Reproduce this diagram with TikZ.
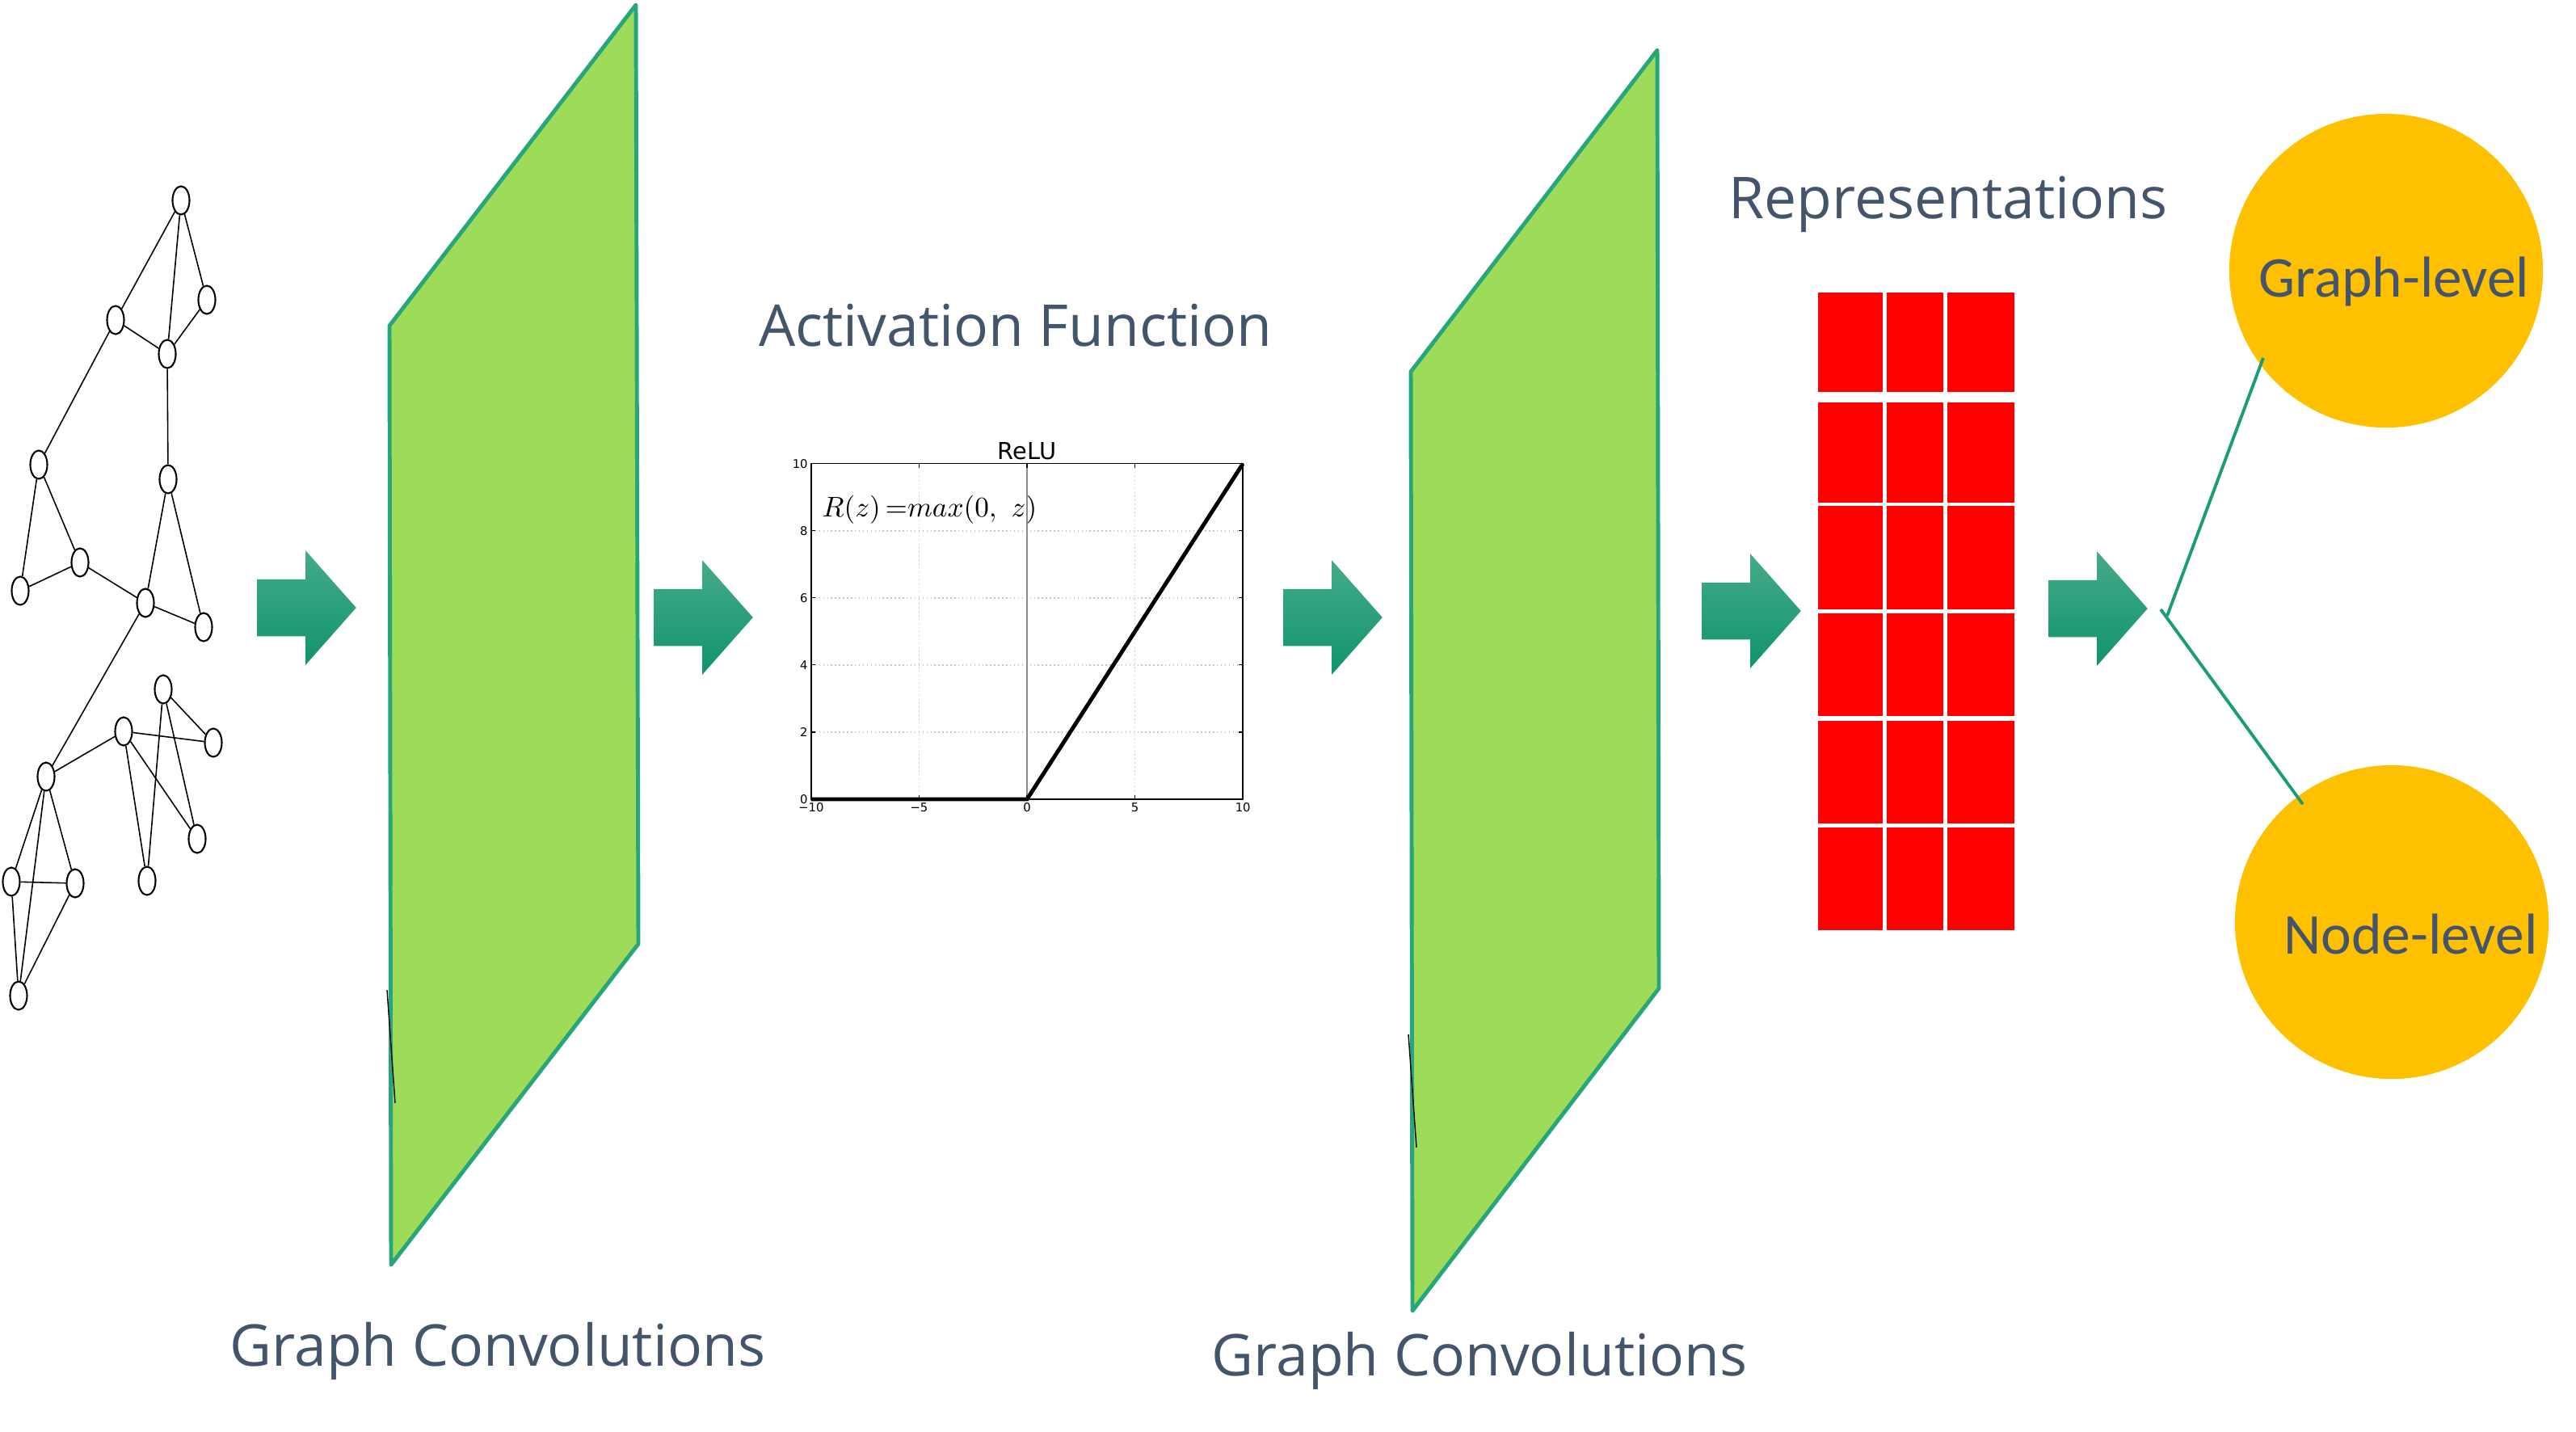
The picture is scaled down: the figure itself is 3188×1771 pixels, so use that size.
\documentclass[tikz,border=0pt]{standalone}
\usepackage{fontspec}
\usepackage{amsmath}
\usetikzlibrary{shapes.geometric,shapes.arrows,positioning}
\newfontfamily\capfont{Open Sans}
\newfontfamily\lvlfont{Carlito}
\newfontfamily\pltfont{DejaVu Sans}
\definecolor{layergreen}{HTML}{9EDB58}
\definecolor{layeredge}{HTML}{26A67A}
\definecolor{flowtop}{HTML}{45AA8A}
\definecolor{flowbot}{HTML}{10946D}
\definecolor{flowline}{HTML}{1A9C77}
\definecolor{amber}{HTML}{FFC000}
\definecolor{slate}{HTML}{44546A}
\definecolor{cellred}{HTML}{FE0000}
\tikzset{
    place/.style={
        ellipse,
        draw=black,
        line width=0.6pt,
        fill=white,
        minimum width=0.21cm,
        minimum height=0.35cm,
        inner sep=0pt,
    },
    layer/.style={
        fill=layergreen,
        draw=layeredge,
        line width=1.4pt,
        line join=round,
    },
    flow/.style={
        single arrow,
        top color=flowtop,
        bottom color=flowbot,
        minimum height=1.22cm,
        inner xsep=0pt,
        inner ysep=0.345cm,
        single arrow head extend=0.355cm,
        single arrow tip angle=97,
        anchor=tail,
    },
    caption/.style={
        font=\capfont\fontsize{20.3}{24}\selectfont,
        text=slate,
        inner sep=0pt,
    },
    level/.style={
        circle,
        fill=amber,
        minimum size=3.88cm,
        inner sep=0pt,
    },
    leveltext/.style={
        font=\lvlfont\fontsize{20.3}{24}\selectfont,
        text=slate,
        inner sep=0pt,
        anchor=base west,
    },
    ticklabel/.style={
        font=\pltfont\fontsize{4.2}{5}\selectfont,
        inner sep=1pt,
    },
    gridline/.style={
        densely dotted,
        draw=black!22,
        line width=0.4pt,
    },
}

\begin{document}
\begin{tikzpicture}[x=0.01cm,y=-0.01cm]
    \useasboundingbox (0,0) rectangle (3188,1771);

    % input graph
    \foreach \n/\x/\y in {n1/224/248, n2/256/371, n3/143/396, n4/207/438,
            n5/48/575, n6/208/593, n7/99/696, n8/25/731, n9/180/746,
            n10/252/776, n11/202/853, n12/153/905, n13/264/919, n14/57/961,
            n15/244/1038, n16/14/1091, n17/93/1093, n18/182/1090, n19/23/1232}
        \node [place] (\n) at (\x,\y) {};
    \foreach \a/\b in {n1/n3, n1/n4, n1/n2, n2/n4, n3/n4, n3/n5, n4/n6,
            n5/n7, n5/n8, n8/n7, n7/n9, n6/n9, n6/n10, n9/n10, n9/n14,
            n14/n12, n12/n13, n12/n15, n12/n18, n11/n18, n11/n13, n11/n15,
            n14/n16, n14/n17, n14/n19, n16/n17, n16/n19, n17/n19}
        \draw[line width=0.45pt] (\a) -- (\b);

    % convolution layers
    \draw[layer] (482,403) -- (787,6) -- (790,1168) -- (484,1565) -- cycle;
    \draw[line width=0.4pt] (479,1225) -- (489,1365);
    \draw[layer] (1746,460) -- (2051,62) -- (2053,1223) -- (1748,1622) -- cycle;
    \draw[line width=0.4pt] (1743,1280) -- (1753,1420);

    \node [caption, anchor=base] (gc1) at (616,1690) {Graph Convolutions};
    \node [caption, anchor=base] (gc2) at (1831,1702) {Graph Convolutions};
    \node [caption, anchor=base] (act) at (1257,428) {Activation Function};
    \node [caption, anchor=base] (rep) at (2411,270) {Representations};

    % arrows
    \node [flow] (a1) at (318,752) {};
    \node [flow] (a2) at (809,764) {};
    \node [flow] (a3) at (1588,764) {};
    \node [flow] (a4) at (2106,756) {};
    \node [flow] (a5) at (2535,753) {};

    % relu plot
    \begin{scope}[shift={(1271,989)},x=0.267cm,y=0.415cm]
        \foreach \gx in {-5,5}
            \draw[gridline] (\gx,0) -- (\gx,10);
        \foreach \gy in {2,4,6,8}
            \draw[gridline] (-10,\gy) -- (10,\gy);
        \draw[black!45, line width=0.3pt] (0,0) -- (0,10);
        \draw[line width=0.4pt] (-10,0) rectangle (10,10);
        \foreach \gx/\gt in {-10/−10,-5/−5,0/0,5/5,10/10} {
            \draw[line width=0.3pt] (\gx,0) -- ++(0,0.12);
            \draw[line width=0.3pt] (\gx,10) -- ++(0,-0.12);
            \node[ticklabel, anchor=north] at (\gx,0) {\gt};
        }
        \foreach \gy in {0,2,4,6,8,10} {
            \draw[line width=0.3pt] (-10,\gy) -- ++(0.2,0);
            \draw[line width=0.3pt] (10,\gy) -- ++(-0.2,0);
            \node[ticklabel, anchor=east] at (-10,\gy) {\gy};
        }
        \draw[line width=1.4pt] (-10,0) -- (0,0) -- (10,10);
        \node[font=\pltfont\fontsize{8.2}{10}\selectfont, anchor=base, inner sep=0pt] (relu) at (0,10.12) {ReLU};
        \node[font=\fontsize{10.4}{12}\selectfont, anchor=base west, inner sep=0pt] (formula) at (-9.51,8.41) {$R(z)\,{=}max(0,\ z)$};
    \end{scope}

    % representations
    \foreach \ya/\yb in {362/485, 498/622, 626/754, 759/886, 892/1019, 1024/1151}
        \foreach \xa/\xb in {2250/2330, 2335/2405, 2410/2493}
            \fill[cellred] (\xa,\ya) rectangle (\xb,\yb);

    % outputs
    \node [level] (gl) at (2953,335) {};
    \node [level] (nl) at (2960,1141) {};
    \node [leveltext] (gltext) at (2795,367) {Graph-level};
    \node [leveltext] (nltext) at (2826,1180) {Node-level};

    \coordinate (fork1) at (2682,762);
    \coordinate (fork2) at (2674,754);
    \draw[flowline, line width=1.1pt, shorten >=-0.1cm] (fork1) -- (gl.217);
    \draw[flowline, line width=1.1pt, shorten >=-0.12cm] (fork2) -- (nl.127);
\end{tikzpicture}
\end{document}
